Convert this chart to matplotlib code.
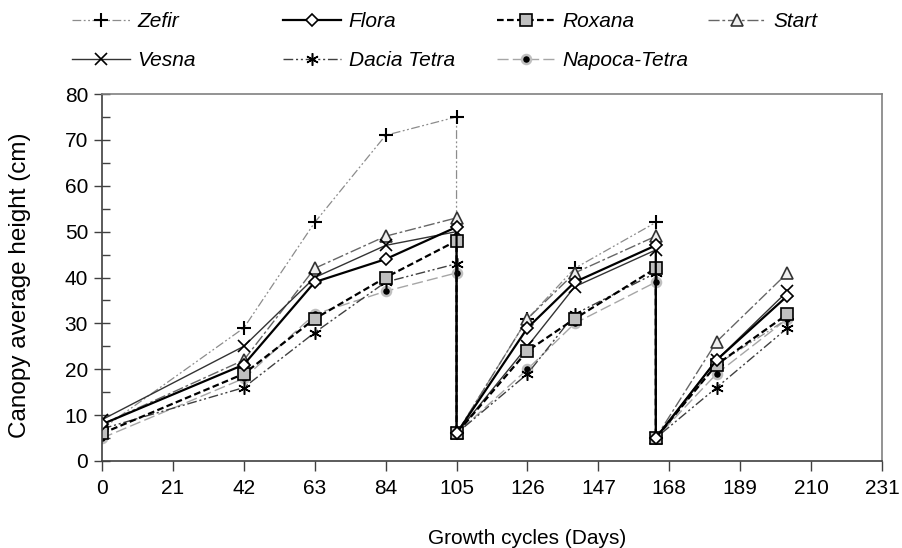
import matplotlib
matplotlib.use("Agg")
import matplotlib.pyplot as plt

plt.rcParams['font.family'] = ['Liberation Sans', 'DejaVu Sans']

days = [0, 42, 63, 84, 105, 105, 126, 140, 164, 164, 182, 203]
zefir = [7, 29, 52, 71, 75, 6, 31, 42, 52, 5, 21, 31]
flora = [8, 21, 39, 44, 51, 6, 29, 39, 47, 5, 22, 36]
roxana = [6, 19, 31, 40, 48, 6, 24, 31, 42, 5, 21, 32]
start = [8, 22, 42, 49, 53, 6, 31, 41, 49, 5, 26, 41]
vesna = [9, 25, 40, 47, 50, 6, 25, 38, 46, 5, 22, 37]
dacia = [7, 16, 28, 39, 43, 6, 19, 32, 41, 5, 16, 29]
napoca = [5, 18, 32, 37, 41, 6, 20, 30, 39, 5, 19, 31]

series_names = ["Zefir", "Flora", "Roxana", "Start", "Vesna", "Dacia Tetra", "Napoca-Tetra"]
xticks = list(range(0, 232, 21))

fig = plt.figure(figsize=(9.03, 5.48), dpi=100)
ax = fig.add_axes([102/903, 1-461/548, (882-102)/903, (461-94)/548])

styles = {
    "Napoca-Tetra": dict(color="#a6a6a6", lw=1.0, dashes=(8, 3), marker="o", ms=6.5,
                         mfc="black", mec="#bfbfbf", mew=1.8),
    "Dacia Tetra": dict(color="#404040", lw=1.0, dashes=(7, 2, 1.5, 2, 1.5, 2), marker=(6, 2, 0),
                        ms=9, mfc="black", mec="black", mew=1.1),
    "Zefir": dict(color="#8c8c8c", lw=0.9, dashes=(7, 2, 1.5, 2, 1.5, 2), marker="+", ms=10,
                  mfc="black", mec="black", mew=1.5),
    "Start": dict(color="#666666", lw=1.0, dashes=(8, 2, 2, 2), marker="^", ms=8,
                  mfc="#eeeeee", mec="#333333", mew=1.2),
    "Vesna": dict(color="#333333", lw=1.0, ls="-", marker="x", ms=8,
                  mfc="black", mec="black", mew=1.2),
    "Roxana": dict(color="black", lw=1.6, dashes=(3, 1.5), marker="s", ms=8,
                   mfc="#bfbfbf", mec="black", mew=1.2),
    "Flora": dict(color="black", lw=1.6, ls="-", marker="D", ms=6.5,
                  mfc="white", mec="black", mew=1.2),
}
data = {"Zefir": zefir, "Flora": flora, "Roxana": roxana, "Start": start,
        "Vesna": vesna, "Dacia Tetra": dacia, "Napoca-Tetra": napoca}

handles = {}
for name in ["Napoca-Tetra", "Dacia Tetra", "Zefir", "Start", "Vesna", "Roxana", "Flora"]:
    ln, = ax.plot(days, data[name], label=name, **styles[name])
    handles[name] = ln

ax.set_xlim(0, 231)
ax.set_ylim(0, 80)
ax.set_xticks(xticks)
ax.set_yticks(range(0, 81, 10))
ax.set_yticks(range(5, 80, 10), minor=True)
ax.tick_params(axis="x", direction="out", length=7, width=1, labelsize=15, pad=6, color="#404040")
ax.tick_params(axis="y", which="major", direction="inout", length=12, width=1, labelsize=15, pad=4, color="#404040")
ax.tick_params(axis="y", which="minor", direction="in", length=6, width=1, color="#404040")
for s in ["left", "bottom"]:
    ax.spines[s].set_color("#404040")
    ax.spines[s].set_linewidth(1.2)
for s in ["top", "right"]:
    ax.spines[s].set_color("#808080")
    ax.spines[s].set_linewidth(1.2)

ax.set_ylabel("Canopy average height (cm)", fontsize=17.5)
ax.yaxis.set_label_coords(-(102-20)/780, 0.48)
ax.set_xlabel("Growth cycles (Days)", fontsize=15)
ax.xaxis.set_label_coords((527-102)/780, -(538-461)/367)
ax.xaxis.label.set_va("center")
ax.yaxis.label.set_va("center")

cols = [["Zefir", "Vesna"], ["Flora", "Dacia Tetra"], ["Roxana", "Napoca-Tetra"], ["Start"]]
xs = [72, 283, 497, 708]
for col, x0 in zip(cols, xs):
    fig.legend([handles[n] for n in col], col, loc="upper left",
               bbox_to_anchor=(x0/903, 1-12/548), bbox_transform=fig.transFigure,
               frameon=False, borderpad=0, borderaxespad=0, handlelength=2.8,
               handletextpad=0.35, labelspacing=0.95,
               prop=dict(size=15, style="italic"), numpoints=1)

fig.savefig("out.png", dpi=100)
